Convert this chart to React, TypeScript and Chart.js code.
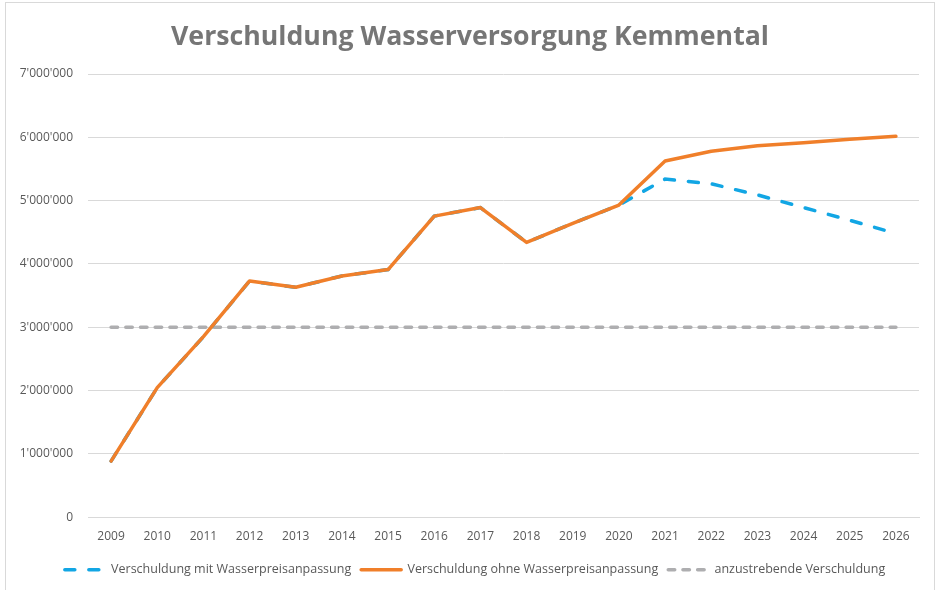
import React, { useEffect, useRef } from "react";
import { Chart, registerables } from "chart.js";

Chart.register(...registerables);

const years = ["2009","2010","2011","2012","2013","2014","2015","2016","2017","2018","2019","2020","2021","2022","2023","2024","2025","2026"];
const mitAnpassung = [885000, 2045000, 2850000, 3730000, 3630000, 3810000, 3910000, 4755000, 4890000, 4340000, 4640000, 4930000, 5340000, 5265000, 5090000, 4890000, 4690000, 4480000];
const ohneAnpassung = [885000, 2045000, 2850000, 3730000, 3630000, 3810000, 3910000, 4755000, 4890000, 4340000, 4640000, 4930000, 5625000, 5780000, 5865000, 5915000, 5970000, 6015000];
const zielwert = [3000000, 3000000, 3000000, 3000000, 3000000, 3000000, 3000000, 3000000, 3000000, 3000000, 3000000, 3000000, 3000000, 3000000, 3000000, 3000000, 3000000, 3000000];
const titleText = "Verschuldung Wasserversorgung Kemmental";
const seriesLabels = ["Verschuldung mit Wasserpreisanpassung", "Verschuldung ohne Wasserpreisanpassung", "anzustrebende Verschuldung"];

function fmt(v: number): string {
  return String(Math.round(v)).replace(/\B(?=(\d{3})+(?!\d))/g, "'");
}

const FONT = "'Open Sans', 'Noto Sans', sans-serif";

const titlePlugin = {
  id: "centeredTitle",
  afterDraw(chart: any) {
    const ctx = chart.ctx;
    ctx.save();
    ctx.font = `bold 26.7px ${FONT}`;
    ctx.fillStyle = "#767676";
    ctx.textAlign = "center";
    ctx.textBaseline = "middle";
    ctx.fillText(titleText, 470, 37);
    ctx.restore();
  },
};

export default function App() {
  const ref = useRef<HTMLCanvasElement | null>(null);
  useEffect(() => {
    if (!ref.current) return;
    const font = FONT;
    const chart = new Chart(ref.current, {
      type: "line",
      plugins: [titlePlugin],
      data: {
        labels: years,
        datasets: [
          {
            label: seriesLabels[0],
            data: mitAnpassung,
            borderColor: "#12A6E4",
            backgroundColor: "#12A6E4",
            borderWidth: 3.5,
            borderDash: [10, 14],
            borderCapStyle: "round",
            pointRadius: 0,
            tension: 0,
            order: 1,
          },
          {
            label: seriesLabels[1],
            data: ohneAnpassung,
            borderColor: "#F07F2A",
            backgroundColor: "#F07F2A",
            borderWidth: 3.5,
            borderCapStyle: "round",
            borderJoinStyle: "round",
            pointRadius: 0,
            tension: 0,
            order: 0,
          },
          {
            label: seriesLabels[2],
            data: zielwert,
            borderColor: "#AEAEB0",
            backgroundColor: "#AEAEB0",
            borderWidth: 3.5,
            borderDash: [6.5, 8.2],
            borderCapStyle: "round",
            pointRadius: 0,
            tension: 0,
            order: 2,
          },
        ],
      },
      options: {
        animation: false,
        responsive: false,
        maintainAspectRatio: false,
        layout: { padding: { left: 13, right: 0, top: 74, bottom: 4 } },
        plugins: {
          title: { display: false },
          legend: {
            position: "bottom",
            labels: {
              usePointStyle: true,
              pointStyle: "line",
              pointStyleWidth: 40,
              padding: 10,
              color: "#595959",
              font: { family: font, size: 12.5 },
              sort: (a: any, b: any) => a.datasetIndex - b.datasetIndex,
              generateLabels: (c: any) => {
                const items = Chart.defaults.plugins.legend.labels.generateLabels(c);
                items.forEach((it: any) => {
                  const ds = c.data.datasets[it.datasetIndex];
                  it.lineDash = ds.borderDash || [];
                  it.lineWidth = ds.borderWidth;
                  it.lineCap = ds.borderCapStyle || "butt";
                  it.strokeStyle = ds.borderColor;
                  it.fillStyle = ds.borderColor;
                  it.pointStyle = "line";
                });
                return items;
              },
            },
          },
          tooltip: { enabled: false },
        },
        scales: {
          x: {
            offset: true,
            afterFit: (s: any) => { s.height = s.height - 2; },
            grid: { display: false, drawTicks: false },
            border: { display: true, color: "#D9D9D9" },
            ticks: { color: "#595959", font: { family: font, size: 12 }, padding: 12, maxRotation: 0 },
          },
          y: {
            min: 0,
            max: 7000000,
            afterFit: (s: any) => { s.width = 75; },
            grid: { color: "#D9D9D9", lineWidth: 1, drawTicks: false },
            border: { display: false },
            ticks: {
              stepSize: 1000000,
              color: "#595959",
              font: { family: font, size: 12 },
              padding: 15,
              callback: (v: any) => fmt(Number(v)),
            },
          },
          yRight: {
            position: "right",
            min: 0,
            max: 7000000,
            display: true,
            afterFit: (s: any) => { s.width = 18; },
            grid: { display: false, drawTicks: false },
            border: { display: false },
            ticks: { display: false },
          },
        },
      },
    });
    return () => chart.destroy();
  }, []);
  return (
    <div style={{ position: "absolute", left: 0, top: 0, width: 937, height: 590, background: "#fff", overflow: "hidden" }}>
      <div style={{ position: "absolute", left: 5, top: 2, width: 930, height: 600, border: "1px solid #D9D9D9", boxSizing: "border-box" }} />
      <canvas ref={ref} width={937} height={590} style={{ position: "absolute", left: 0, top: 0, width: 937, height: 590 }} />
    </div>
  );
}
